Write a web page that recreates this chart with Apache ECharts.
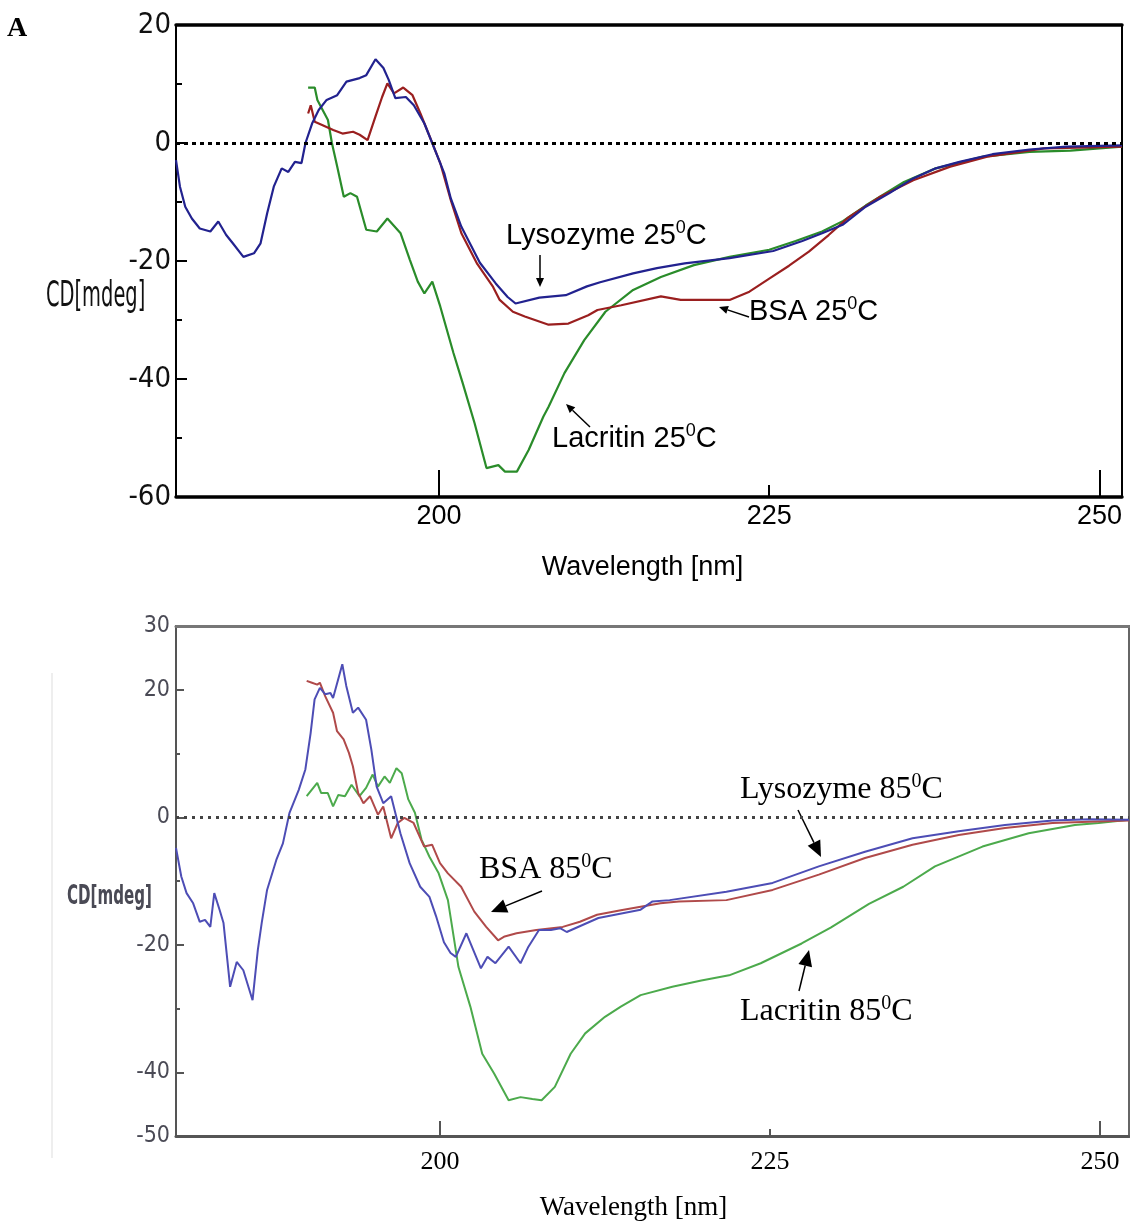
<!DOCTYPE html>
<html>
<head>
<meta charset="utf-8">
<script src="https://cdn.jsdelivr.net/npm/echarts@6/dist/echarts.min.js"></script>
<style>
html,body{margin:0;padding:0;background:#fff;}
#chart{width:1130px;height:1226px;}
</style>
</head>
<body>
<div id="chart"></div>
<script>
// ---------------- DATA (wavelength nm, CD mdeg) ----------------
const xTicks = [200, 225, 250];
const yTicksTop = [-60, -40, -20, 0, 20];
const yLabelsBottom = [-50, -40, -20, 0, 20, 30];

const lysozyme25 = [[180.1,-2.9],[180.4,-7.4],[180.8,-10.8],[181.3,-12.8],[181.9,-14.5],[182.7,-15.0],[183.3,-13.3],[183.9,-15.6],[184.4,-17.0],[185.2,-19.3],[186.0,-18.7],[186.5,-17.0],[187.0,-11.9],[187.5,-7.4],[188.1,-4.3],[188.6,-4.9],[189.1,-3.2],[189.6,-3.4],[189.9,0],[190.4,3.3],[190.9,5.6],[191.5,7.3],[192.3,8.1],[193.0,10.4],[194.0,11.0],[194.5,11.5],[195.2,14.2],[195.8,12.7],[196.2,10.7],[196.7,7.6],[197.5,7.8],[198.1,6.4],[198.9,3.3],[199.6,-0.6],[200.4,-5.1],[200.9,-9.4],[201.7,-14.2],[203.1,-20.3],[204.3,-23.8],[205.2,-26.1],[205.8,-27.2],[207.6,-26.2],[209.6,-25.8],[211.2,-24.3],[212.2,-23.6],[214.7,-22.1],[216.5,-21.2],[218.6,-20.4],[222.0,-19.5],[225.3,-18.3],[227.5,-16.6],[229.0,-15.3],[230.6,-13.8],[232.3,-10.8],[234.1,-8.5],[235.9,-6.0],[237.6,-4.3],[239.4,-3.2],[241.9,-1.9],[244.7,-1.1],[247.5,-0.6],[251.7,-0.4]];
const bsa25 = [[190.1,5.0],[190.3,6.4],[190.6,3.6],[191.2,3.0],[192.0,2.2],[192.7,1.6],[193.5,1.9],[194.0,1.4],[194.6,0.5],[195.2,4.5],[195.7,7.8],[196.1,10.1],[196.6,8.4],[197.3,9.4],[198.0,8.1],[198.6,5.0],[199.3,1.1],[200.1,-3.4],[200.9,-9.7],[201.7,-15.3],[202.9,-20.5],[204.1,-24.4],[204.6,-26.6],[205.6,-28.6],[206.5,-29.4],[208.3,-30.8],[209.8,-30.6],[211.3,-29.2],[212.0,-28.3],[213.8,-27.5],[216.8,-26.0],[218.3,-26.6],[222.0,-26.6],[223.5,-25.2],[225.0,-23.0],[226.5,-20.8],[228.0,-18.4],[229.5,-15.6],[231.0,-12.6],[233.4,-9.1],[235.9,-6.3],[238.7,-4.0],[241.5,-2.3],[244.0,-1.5],[245.8,-0.9],[251.7,-0.6]];
const lacritin25 = [[190.1,9.4],[190.6,9.4],[190.8,7.3],[191.6,3.9],[191.9,0],[192.3,-4.0],[192.8,-9.1],[193.3,-8.5],[193.8,-9.1],[194.5,-14.7],[195.3,-15.0],[196.1,-12.8],[197.1,-15.3],[197.8,-19.8],[198.4,-23.5],[198.9,-25.5],[199.5,-23.5],[200.1,-27.7],[201.1,-35.6],[201.8,-40.7],[202.7,-47.5],[203.6,-55.1],[204.5,-54.6],[205.0,-55.7],[205.9,-55.7],[206.8,-52.0],[207.9,-46.4],[208.3,-44.7],[209.5,-39.0],[211.0,-33.4],[212.6,-28.6],[214.7,-24.9],[216.8,-22.7],[219.3,-20.7],[222.0,-19.3],[225.0,-18.1],[227.0,-16.6],[229.0,-15.0],[230.6,-13.2],[232.3,-10.6],[235.2,-6.6],[237.6,-4.3],[241.2,-2.3],[244.7,-1.5],[247.8,-1.3],[251.7,-0.6]];

const lysozyme85 = [[180.0,-4.8],[180.4,-9.3],[180.8,-11.9],[181.3,-13.5],[181.8,-16.4],[182.2,-16.1],[182.6,-17.2],[182.9,-11.9],[183.3,-14.5],[183.6,-16.6],[184.1,-26.6],[184.6,-22.7],[185.1,-24.0],[185.8,-28.7],[186.2,-20.8],[186.5,-16.5],[186.9,-11.4],[187.6,-6.7],[188.1,-4.1],[188.6,0.7],[189.3,4.3],[189.8,7.5],[190.2,13.2],[190.5,18.5],[190.9,20.3],[191.3,19.3],[191.7,19.5],[191.9,18.7],[192.6,24.0],[192.9,20.6],[193.4,16.4],[193.8,17.2],[194.4,15.3],[194.8,10.6],[195.2,4.8],[195.7,2.2],[196.3,3.3],[197.0,-2.5],[197.7,-7.2],[198.5,-10.9],[199.2,-12.5],[199.7,-15.5],[200.3,-19.6],[200.8,-21.3],[201.2,-21.9],[202.0,-18.2],[203.1,-23.7],[203.6,-21.9],[204.2,-22.9],[205.2,-20.3],[206.1,-22.9],[206.7,-20.3],[207.5,-17.7],[208.4,-17.7],[209.1,-17.4],[209.6,-18.0],[212.0,-15.8],[215.2,-14.5],[216.1,-13.2],[217.4,-13.0],[221.7,-11.7],[225.2,-10.3],[228.7,-7.7],[232.2,-5.4],[235.8,-3.3],[239.3,-2.2],[242.8,-1.2],[246.4,-0.5],[249.2,-0.3],[252.2,-0.4]];
const bsa85 = [[189.9,21.4],[190.3,21.1],[190.7,20.8],[190.9,21.1],[191.3,19.0],[191.9,16.4],[192.2,13.5],[192.7,12.2],[193.1,10.1],[193.4,8.0],[193.8,3.8],[194.2,2.2],[194.7,3.3],[195.3,0.4],[195.7,1.7],[196.3,-3.3],[196.8,-0.9],[197.3,-0.1],[198.0,-0.9],[198.8,-4.6],[199.4,-4.3],[200.0,-7.2],[200.6,-8.8],[201.6,-10.9],[202.6,-14.8],[203.5,-17.2],[204.4,-19.3],[204.9,-18.7],[205.8,-18.2],[207.3,-17.7],[209.3,-17.2],[210.6,-16.4],[211.9,-15.3],[213.7,-14.6],[216.7,-13.5],[218.1,-13.2],[221.7,-13.0],[225.2,-11.4],[228.7,-9.0],[232.2,-6.4],[235.8,-4.3],[239.3,-2.8],[242.8,-1.7],[246.4,-0.9],[249.2,-0.7],[252.2,-0.5]];
const lacritin85 = [[189.9,3.3],[190.7,5.4],[191.0,3.8],[191.5,3.8],[191.9,1.7],[192.3,3.5],[192.8,3.3],[193.3,5.1],[193.9,3.3],[194.4,4.6],[194.9,6.7],[195.3,4.8],[195.8,6.4],[196.2,5.4],[196.7,7.7],[197.1,6.9],[197.6,2.8],[198.1,0.7],[198.6,-3.5],[199.2,-6.2],[199.9,-8.8],[200.6,-13.0],[201.4,-23.5],[202.3,-29.7],[203.2,-37.1],[204.1,-40.2],[205.2,-44.4],[206.1,-43.9],[207.0,-44.2],[207.7,-44.4],[208.7,-42.3],[209.9,-37.1],[211.0,-33.9],[212.5,-31.3],[213.7,-29.7],[215.2,-27.9],[217.6,-26.6],[219.8,-25.6],[221.9,-24.8],[224.3,-22.9],[227.4,-19.8],[229.6,-17.3],[232.5,-13.6],[235.1,-10.9],[237.5,-7.7],[241.1,-4.6],[244.6,-2.5],[248.1,-1.2],[249.9,-0.9],[252.2,-0.4]];

// ---------------- STYLE ----------------
const SANS = "'Liberation Sans', Arial, sans-serif";
const SERIF = "'Liberation Serif', 'Times New Roman', serif";
const NARROW = "'Liberation Sans Narrow', 'Arial Narrow', 'DejaVu Sans Condensed', 'Liberation Sans', sans-serif";

const chart = echarts.init(document.getElementById('chart'), null, {renderer: 'canvas'});

function arrow(x1, y1, x2, y2, len, half, lw) {
  const a = Math.atan2(y2 - y1, x2 - x1);
  const bx = x2 - len * Math.cos(a), by = y2 - len * Math.sin(a);
  const px = -Math.sin(a) * half, py = Math.cos(a) * half;
  return [
    {type: 'line', silent: true, shape: {x1: x1, y1: y1, x2: bx, y2: by}, style: {stroke: '#000', lineWidth: lw}},
    {type: 'polygon', silent: true, shape: {points: [[x2, y2], [bx + px, by + py], [bx - px, by - py]]}, style: {fill: '#000'}}
  ];
}
function richLabel(x, y, main, suffix, family, size, lh, supSize, supLh) {
  return {
    type: 'text', silent: true, x: x, y: y,
    style: {
      text: '{n|' + main + '}{s|0}{n|' + suffix + '}',
      align: 'left', verticalAlign: 'top',
      rich: {
        n: {fontFamily: family, fontSize: size, lineHeight: lh, fill: '#000'},
        s: {fontFamily: family, fontSize: supSize, lineHeight: supLh, verticalAlign: 'top', fill: '#000'}
      }
    }
  };
}

const topMin = 180.1, topMax = 251.7, botMin = 180.0, botMax = 252.2;
function xAx(grid, min, max, extra) {
  return Object.assign({type: 'value', gridIndex: grid, min: min, max: max, position: 'bottom',
    splitLine: {show: false}, axisLabel: {show: false}, axisTick: {show: false}}, extra);
}

const option = {
  animation: false,
  backgroundColor: '#fff',
  grid: [
    {left: 176, top: 25, width: 946, height: 472, show: true, borderColor: '#000', borderWidth: 2, outerBoundsMode: 'none'},
    {left: 176, top: 626, width: 953, height: 510, show: true, borderColor: '#666', borderWidth: 2, outerBoundsMode: 'none'}
  ],
  xAxis: [
    xAx(0, topMin, topMax, {
      axisLine: {onZero: false, lineStyle: {color: '#000', width: 3.5}},
      axisTick: {show: true, inside: true, customValues: [225], length: 12, lineStyle: {color: '#000', width: 2}},
      axisLabel: {show: true, customValues: xTicks, fontFamily: SANS, fontSize: 27, color: '#000', margin: 6},
      name: 'Wavelength [nm]', nameLocation: 'middle', nameGap: 57,
      nameTextStyle: {fontFamily: SANS, fontSize: 27, color: '#000', padding: [0, 13, 0, 0]}}),
    xAx(0, topMin, topMax, {
      axisLine: {show: false, onZero: false},
      axisTick: {show: true, inside: true, customValues: [200, 250], length: 27, lineStyle: {color: '#000', width: 2}}}),
    xAx(0, topMin, topMax, {position: 'top',
      axisLine: {onZero: false, lineStyle: {color: '#000', width: 3.5}}}),

    xAx(1, botMin, botMax, {
      axisLine: {onZero: false, lineStyle: {color: '#555', width: 3}},
      axisTick: {show: true, inside: true, customValues: [225], length: 7, lineStyle: {color: '#555', width: 2}},
      axisLabel: {show: true, customValues: xTicks, fontFamily: SERIF, fontSize: 26, color: '#000', margin: 13},
      name: 'Wavelength [nm]', nameLocation: 'middle', nameGap: 58,
      nameTextStyle: {fontFamily: SERIF, fontSize: 27, color: '#000', padding: [0, 38, 0, 0]}}),
    xAx(1, botMin, botMax, {
      axisLine: {show: false, onZero: false},
      axisTick: {show: true, inside: true, customValues: [200, 250], length: 15, lineStyle: {color: '#555', width: 2}}}),
    xAx(1, botMin, botMax, {position: 'top',
      axisLine: {onZero: false, lineStyle: {color: '#777', width: 3}}})
  ],
  yAxis: [
    {type: 'value', gridIndex: 0, min: -60, max: 20, interval: 20, position: 'left',
      axisLine: {show: true, onZero: false, lineStyle: {color: '#000', width: 2}},
      axisTick: {show: true, inside: true, length: 11, lineStyle: {color: '#000', width: 2}},
      minorTick: {show: true, splitNumber: 2, length: 6, lineStyle: {color: '#000', width: 2}},
      axisLabel: {customValues: yTicksTop, fontFamily: NARROW, fontSize: 29, color: '#111', margin: 5},
      splitLine: {show: false}},
    {type: 'value', gridIndex: 1, min: -50, max: 30, interval: 10, position: 'left',
      axisLine: {show: true, onZero: false, lineStyle: {color: '#555', width: 2}},
      axisTick: {show: true, inside: true, customValues: [-40, -20, 0, 20], length: 8, lineStyle: {color: '#555', width: 2}},
      axisLabel: {customValues: yLabelsBottom, fontFamily: NARROW, fontSize: 23, color: '#4a4a55', margin: 6},
      splitLine: {show: false}},
    {type: 'value', gridIndex: 1, min: -50, max: 30, interval: 10, position: 'left', offset: 0,
      axisLine: {show: false, onZero: false},
      axisTick: {show: true, inside: true, customValues: [-30, -10, 10], length: 4, lineStyle: {color: '#555', width: 2}},
      axisLabel: {show: false}, splitLine: {show: false}}
  ],
  series: [
    {name: 'zero25', type: 'line', xAxisIndex: 0, yAxisIndex: 0, data: [], silent: true,
      markLine: {silent: true, symbol: ['none', 'none'], label: {show: false},
        lineStyle: {color: '#000', width: 3, type: [4, 4]}, data: [{yAxis: 0}]}},
    {name: 'Lacritin 25', type: 'line', xAxisIndex: 0, yAxisIndex: 0, data: lacritin25, showSymbol: false,
      lineStyle: {color: '#2a8c2a', width: 2.2}},
    {name: 'BSA 25', type: 'line', xAxisIndex: 0, yAxisIndex: 0, data: bsa25, showSymbol: false,
      lineStyle: {color: '#9a1f1f', width: 2.2}},
    {name: 'Lysozyme 25', type: 'line', xAxisIndex: 0, yAxisIndex: 0, data: lysozyme25, showSymbol: false,
      lineStyle: {color: '#22228f', width: 2.2}},

    {name: 'zero85', type: 'line', xAxisIndex: 3, yAxisIndex: 1, data: [], silent: true,
      markLine: {silent: true, symbol: ['none', 'none'], label: {show: false},
        lineStyle: {color: '#444', width: 3, type: [3, 5]}, data: [{yAxis: 0}]}},
    {name: 'Lacritin 85', type: 'line', xAxisIndex: 3, yAxisIndex: 1, data: lacritin85, showSymbol: false,
      lineStyle: {color: '#4caa4c', width: 2}},
    {name: 'BSA 85', type: 'line', xAxisIndex: 3, yAxisIndex: 1, data: bsa85, showSymbol: false,
      lineStyle: {color: '#b04a4a', width: 2}},
    {name: 'Lysozyme 85', type: 'line', xAxisIndex: 3, yAxisIndex: 1, data: lysozyme85, showSymbol: false,
      lineStyle: {color: '#4d4db5', width: 2}}
  ],
  graphic: [].concat(
    [{type: 'text', silent: true, x: 7, y: 15, style: {text: 'A', fontFamily: SERIF, fontWeight: 'bold', fontSize: 28, fill: '#000'}},
     {type: 'text', silent: true, x: 46, y: 297, scaleX: 0.6, style: {text: 'CD[mdeg]', fontFamily: NARROW, fontSize: 36, fill: '#111', verticalAlign: 'middle'}},
     {type: 'text', silent: true, x: 67, y: 897, scaleX: 0.62, style: {text: 'CD[mdeg]', fontFamily: NARROW, fontWeight: 'bold', fontSize: 27, fill: '#4a4a55', verticalAlign: 'middle'}},
     {type: 'line', silent: true, shape: {x1: 52, y1: 673, x2: 52, y2: 1158}, style: {stroke: '#eeeeee', lineWidth: 2}},
     richLabel(506, 219, 'Lysozyme 25', 'C', SANS, 29, 34, 18, 26),
     richLabel(749, 295, 'BSA 25', 'C', SANS, 29, 34, 18, 26),
     richLabel(552, 422, 'Lacritin 25', 'C', SANS, 29, 34, 18, 26),
     richLabel(740, 772, 'Lysozyme 85', 'C', SERIF, 32, 36, 20, 20),
     richLabel(479, 852, 'BSA 85', 'C', SERIF, 32, 36, 20, 20),
     richLabel(740, 994, 'Lacritin 85', 'C', SERIF, 32, 36, 20, 20)],
    arrow(540, 255, 540, 287, 9, 4, 1.5),
    arrow(749, 317, 719, 307, 9, 4, 1.5),
    arrow(590, 427, 566, 404, 9, 4, 1.5),
    arrow(798, 810, 821, 857, 16, 7, 1.5),
    arrow(542, 891, 491, 912, 16, 7, 1.5),
    arrow(799, 991, 809, 950, 16, 7, 1.5)
  )
};
chart.setOption(option);
</script>
</body>
</html>
